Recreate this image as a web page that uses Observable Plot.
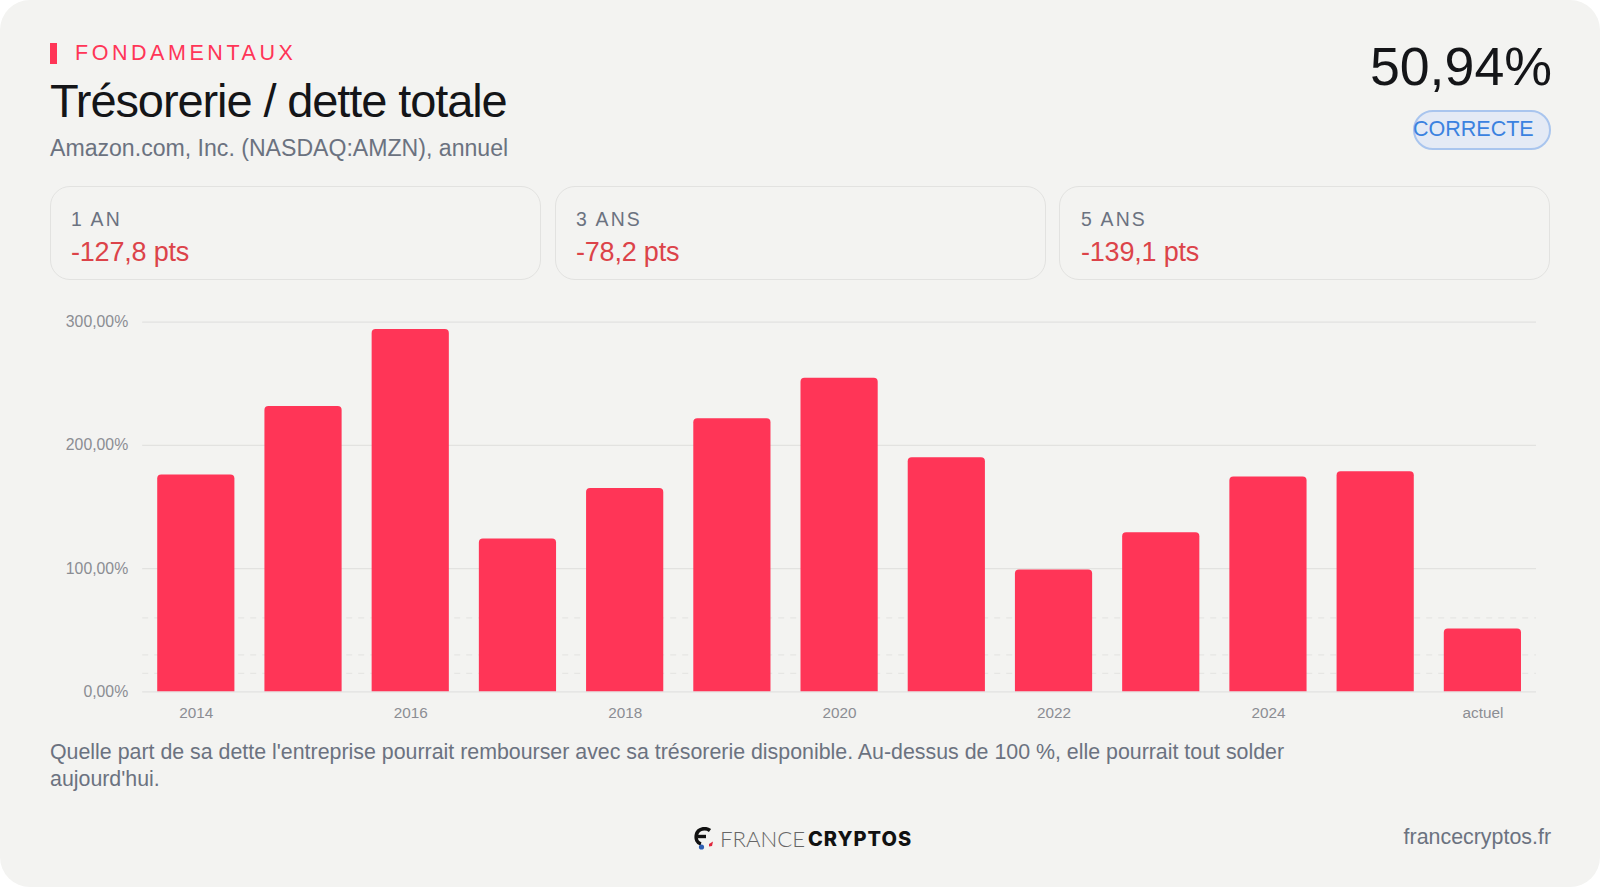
<!DOCTYPE html>
<html lang="fr"><head><meta charset="utf-8">
<script src="https://cdn.jsdelivr.net/npm/d3@7"></script>
<script src="https://cdn.jsdelivr.net/npm/@observablehq/plot@0.6"></script>
<style>
html,body{margin:0;padding:0;background:#fff;width:1600px;height:887px;overflow:hidden}
#card{position:relative;width:1600px;height:887px;background:#f3f3f1;border-radius:30px;overflow:hidden;font-family:"Liberation Sans",Arial,sans-serif}
#card>*{position:absolute;white-space:nowrap}
.mark{left:50px;top:43px;width:7px;height:21px;background:#ff3557}
.eyebrow{left:75px;top:41px;font-size:21.5px;line-height:24px;letter-spacing:3.55px;color:#ff3557}
.title{left:50px;top:74px;font-size:47px;line-height:54px;letter-spacing:-1.1px;color:#141518}
.sub{left:50px;top:134.4px;font-size:23.1px;line-height:28px;color:#6b7280}
.big{right:48px;top:35px;font-size:53.7px;line-height:62px;color:#141518}
.pill{left:1413px;top:110px;width:134px;height:36px;border:2px solid #a9c5ee;background:#e4eaf5;border-radius:20px}
.pilltxt{left:1413px;top:115px;font-size:21.5px;line-height:28px;color:#3b82e0}
.box{top:186px;width:491px;height:94px;box-sizing:border-box;border:1.5px solid #e2e2e0;border-radius:20px}
.lab{top:207px;font-size:19.4px;line-height:24px;letter-spacing:2.2px;color:#6b7280}
.val{top:236px;font-size:27px;line-height:32px;letter-spacing:-.2px;color:#dc4349}
#chart{left:50px;top:300px}
.cap{left:50px;top:739px;width:1300px;white-space:normal!important;font-size:21.36px;line-height:27px;color:#6b7280}
.site{right:49px;top:823px;font-size:21.4px;line-height:28px;color:#6b7280}
.fr{left:720px;top:826px;font-family:Lato,sans-serif;font-weight:300;font-size:22.2px;line-height:26px;color:#666}
.cr{left:808px;top:826px;font-family:Inter,sans-serif;font-weight:800;font-size:20px;line-height:26px;letter-spacing:1px;color:#111}
svg.logo{left:694px;top:827px}
</style></head><body>
<div id="card">
<div class="mark"></div><div class="eyebrow">FONDAMENTAUX</div>
<div class="title">Trésorerie / dette totale</div>
<div class="sub">Amazon.com, Inc. (NASDAQ:AMZN), annuel</div>
<div class="big">50,94%</div>
<div class="pill"></div><div class="pilltxt">CORRECTE</div>
<div class="box" style="left:50px"></div><div class="lab" style="left:71px">1 AN</div><div class="val" style="left:71px">-127,8 pts</div>
<div class="box" style="left:554.5px"></div><div class="lab" style="left:576px">3 ANS</div><div class="val" style="left:576px">-78,2 pts</div>
<div class="box" style="left:1059px"></div><div class="lab" style="left:1081px">5 ANS</div><div class="val" style="left:1081px">-139,1 pts</div>
<div id="chart"></div>
<div class="cap">Quelle part de sa dette l'entreprise pourrait rembourser avec sa trésorerie disponible. Au-dessus de 100 %, elle pourrait tout solder aujourd'hui.</div>
<svg class="logo" width="22" height="24" viewBox="0 0 22 24">
<path d="M16 3.5C12 .5 4 1 2.5 7.5C1.5 12 3 16 7 17" fill="none" stroke="#111" stroke-width="3.6"/>
<path d="M4 9.5H12" stroke="#111" stroke-width="3.4"/>
<circle cx="7.5" cy="20" r="2.6" fill="#2f5fb3"/><path d="M15 17l4-2.5-1 4.5-3 .5z" fill="#e0263c"/></svg>
<div class="fr">FRANCE</div><div class="cr">CRYPTOS</div>
<div class="site">francecryptos.fr</div>
</div>
<script>
const periods = ["2014","2015","2016","2017","2018","2019","2020","2021","2022","2023","2024","2025","actuel"];
const ratios = [176,231.5,294,124,165,221.5,254.5,190,98.8,129,174.3,178.5,50.94];
const tickLabels = ["2014","2016","2018","2020","2022","2024","actuel"];
const solidGrid = [0,100,200,300];
const dashedGrid = [15,30,60];
const rows = periods.map((p,i)=>({p,v:ratios[i]}));
const fmt = d => d3.format(".2f")(d).replace(".",",")+"%";
const plot = Plot.plot({
  width:1500,height:430,marginLeft:92.2,marginRight:14,marginTop:21.6,marginBottom:38.7,
  style:{background:"transparent",fontFamily:"'Liberation Sans',Arial,sans-serif",fontSize:"15.3px",color:"#8b8d93"},
  x:{type:"band",domain:periods,paddingInner:0.28,paddingOuter:0.14,round:false,label:null},
  y:{domain:[0,300],label:null},
  marks:[
    Plot.ruleY(dashedGrid,{stroke:"#e6e6e4",strokeWidth:1.2,strokeDasharray:"6,6"}),
    Plot.ruleY(solidGrid,{stroke:"#e2e2e0",strokeWidth:1.3}),
    Plot.barY(rows,{x:"p",y:"v",fill:"#ff3557",ry1:4,rx:4}),
    Plot.axisY({ticks:solidGrid,tickSize:0,tickPadding:14.5,tickFormat:fmt,label:null,fill:"#8b8d93",fontSize:15.8}),
    Plot.axisX({ticks:tickLabels,tickSize:0,tickPadding:15,label:null,fill:"#8b8d93"})
  ]
});
document.getElementById("chart").appendChild(plot);
</script>
</body></html>
